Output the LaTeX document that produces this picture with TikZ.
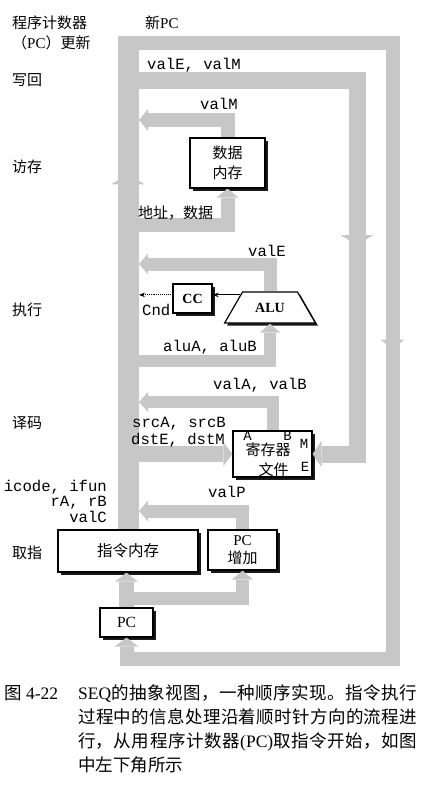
\documentclass[tikz,border=0pt]{standalone}
\usepackage{fontspec}
\setmainfont{Liberation Serif}
\setmonofont{Liberation Mono}
\newfontfamily\cjk{Noto Sans CJK SC}
\usetikzlibrary{arrows.meta,shapes.geometric,shadows,decorations.markings}
\XeTeXlinebreaklocale "zh"
\XeTeXlinebreakskip=0pt plus 3pt
\definecolor{busgray}{gray}{0.78}

\tikzset{
	blockbox/.style={draw, line width=1.2pt, fill=white,
		drop shadow={shadow xshift=2.5pt, shadow yshift=-2.5pt, fill=black, opacity=0.9}},
	bus/.style={draw=busgray, line width=#1},
	bus/.default=14pt,
	bustip/.style={-{Triangle[width=#1, length=9pt, line width=0pt]}},
	busmark/.style 2 args={postaction={decorate}, decoration={markings,
		mark=at position #1 with {\arrow{Triangle[width=#2, length=10pt, line width=0pt]}}}},
	stagelabel/.style={anchor=west, inner sep=0pt, text height=11pt, text depth=0pt,
		font=\cjk\fontsize{15}{20}\selectfont},
	siglabel/.style={anchor=west, inner sep=0pt, text height=10pt, text depth=1pt,
		font=\ttfamily\fontsize{15.6}{18}\selectfont},
	portlabel/.style={inner sep=0pt, font=\ttfamily\fontsize{14}{16}\selectfont},
}

\begin{document}
\begin{tikzpicture}[x=1pt, y=-1pt]
	%% The page is as big as the scan, y runs downwards so the numbers are read straight off it
	\useasboundingbox (0,0) rectangle (436,789);

	%% stage names down the left side
	\node[stagelabel] (stpc) at (12,23) {程序计数器};
	\node[stagelabel] (stpcb) at (12,43) {（{\rmfamily PC}）更新};
	\node[stagelabel] (stwb) at (12,80) {写回};
	\node[stagelabel] (stmem) at (12,167) {访存};
	\node[stagelabel] (stex) at (12,310) {执行};
	\node[stagelabel] (stdec) at (12,423) {译码};
	\node[stagelabel] (stfet) at (12,553) {取指};
	\node[stagelabel] (newpc) at (145,23) {新{\rmfamily PC}};

	%% the hardware blocks, each one gets a little shadow
	\node[blockbox, minimum width=75pt, minimum height=50pt, align=center,
		font=\cjk\fontsize{15}{20}\selectfont] (dmem) at (227.5,163) {数据\\内存};
	\node[blockbox, minimum width=39pt, minimum height=29pt,
		font=\bfseries\fontsize{14}{16}\selectfont] (cc) at (192.5,298.5) {CC};
	\node[blockbox, trapezium, trapezium angle=60, text width=55pt, inner xsep=0pt, inner ysep=10.5pt,
		text height=10pt, text depth=0pt, align=center,
		font=\bfseries\fontsize{14}{16}\selectfont] (alu) at (270,307.5) {ALU};
	\node[blockbox, minimum width=79pt, minimum height=46pt] (rf) at (272.5,454) {};
	\node[blockbox, minimum width=140pt, minimum height=42pt,
		font=\cjk\fontsize{15.5}{18}\selectfont] (imem) at (128,551) {指令内存};
	\node[blockbox, minimum width=69pt, minimum height=40pt, align=center,
		font=\cjk\fontsize{15}{18}\selectfont] (pcinc) at (242.5,550) {{\rmfamily PC}\\增加};
	\node[blockbox, minimum width=53pt, minimum height=29pt,
		font=\fontsize{15.5}{18}\selectfont] (pc) at (126.5,622.5) {PC};

	%% inside the register file
	\node[inner sep=0pt, font=\cjk\fontsize{15}{18}\selectfont] (rfname) at (268,450) {寄存器};
	\node[inner sep=0pt, font=\cjk\fontsize{15}{18}\selectfont] (rfname2) at (273.5,470) {文件};
	\node[portlabel] (porta) at (247.5,436) {A};
	\node[portlabel] (portb) at (287.5,436) {B};
	\node[portlabel] (portm) at (304,444) {M};
	\node[portlabel] (porte) at (305,467) {E};

	%% the gray buses
	\coordinate (lb) at (139,0);
	\coordinate (tr) at (392.5,43);
	\coordinate (br) at (392.5,658.5);
	\coordinate (ir) at (357,81);
	\draw[bus=21pt, busmark={355pt}{34pt}] (imem.north) -- (imem.north |- 0,36);
	\draw[bus, bustip=24pt, busmark={571pt}{24pt}] (imem.north |- tr) -- (tr) -- (br) -- (pc.south |- br) -- (pc.south);
	\draw[bus=17pt, bustip=27pt, busmark={382pt}{33pt}] (lb |- ir) -- (ir) -- (ir |- rf.east) -- (rf.east);
	\draw[bus, bustip=22pt] (dmem.north) |- (lb |- 0,120);
	\draw[bus, bustip=22pt] (lb |- 0,225) -| (dmem.south);
	\draw[bus=13pt, bustip=21pt] (alu.north) |- (lb |- 0,264);
	\draw[bus=12pt, bustip=20pt] (lb |- 0,361) -| (alu.south);
	\draw[bus=12pt, bustip=20pt] (rf.north) |- (lb |- 0,402);
	\draw[bus=16pt, bustip=24pt] (lb |- rf.west) -- (rf.west);
	\draw[bus=13pt, bustip=21pt] (pcinc.north) |- (lb |- 0,511);
	\draw[bus=15pt, bustip=23pt] (pc.north) -- (imem.south -| pc.north);
	\draw[bus=13pt, bustip=21pt] (pc.north |- 0,598) -| (pcinc.south);

	%% condition codes
	\path (alu.top left corner) ++(-2,3.5) coordinate (alul);
	\draw[line width=0.9pt, -{Stealth[length=6pt,width=4.5pt]}] (alul) -- (alul -| cc.east);
	\draw[line width=0.9pt, densely dotted, -{Stealth[length=6pt,width=4.5pt]}] (cc.west |- alul) -- (lb |- alul);

	%% signal names, written on top of the buses
	\node[siglabel] (sigem) at (147,65) {valE, valM};
	\node[siglabel] (sigm) at (200,105) {valM};
	\node[stagelabel] (sigaddr) at (138,213) {地址，数据};
	\node[siglabel] (sige) at (248,252) {valE};
	\node[siglabel] (sigcnd) at (142,311) {Cnd};
	\node[siglabel] (sigalu) at (163,347) {aluA, aluB};
	\node[siglabel] (sigab) at (213,385) {valA, valB};
	\node[siglabel] (sigsrc) at (132,423) {srcA, srcB};
	\node[siglabel] (sigdst) at (131,440) {dstE, dstM};
	\node[siglabel, anchor=east] (sigicode) at (107,487) {icode, ifun};
	\node[siglabel, anchor=east] (sigrr) at (107,502) {rA, rB};
	\node[siglabel, anchor=east] (sigvalc) at (107,518) {valC};
	\node[siglabel] (sigp) at (208,493) {valP};

	%% caption under the figure
	\node[anchor=west, inner sep=0pt, text height=12pt, text depth=0pt,
		font=\fontsize{17.5}{24}\selectfont] (fignum) at (4,693) {{\cjk 图} 4-22};
	\node[anchor=north west, inner sep=0pt, text width=339pt, align=justify,
		font=\cjk\fontsize{17.5}{24}\selectfont] (caption) at (78,684)
		{\noindent{\rmfamily SEQ}的抽象视图，一种顺序实现。指令执行\linebreak
		过程中的信息处理沿着顺时针方向的流程进\linebreak
		行，从用程序计数器{\rmfamily (PC)}取指令开始，如图\linebreak
		中左下角所示};
\end{tikzpicture}
\end{document}
